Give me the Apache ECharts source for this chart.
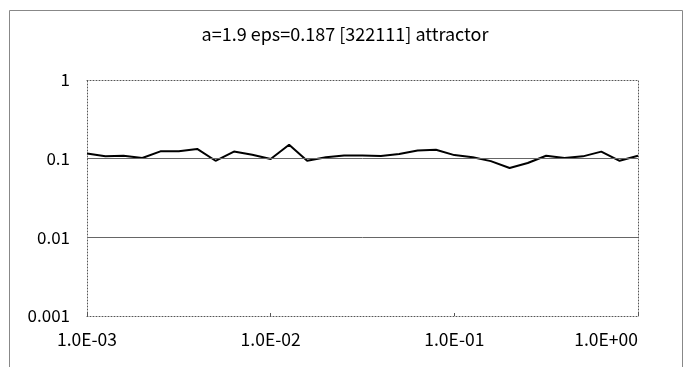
<!DOCTYPE html>
<html><head><meta charset="utf-8">
<script src="https://cdn.jsdelivr.net/npm/echarts@6/dist/echarts.min.js"></script>
<style>html,body{margin:0;padding:0;background:#fff}#c{width:690px;height:367px}</style>
</head><body><div id="c"></div>
<script>
const titleText = 'a=1.9 eps=0.187 [322111] attractor';
const xValues = [0.001, 0.00126, 0.00158, 0.002, 0.00251, 0.00316, 0.00398, 0.00501, 0.00631, 0.00794,
  0.01, 0.0126, 0.0158, 0.02, 0.0251, 0.0316, 0.0398, 0.0501, 0.0631, 0.0794,
  0.1, 0.126, 0.158, 0.2, 0.251, 0.316, 0.398, 0.501, 0.631, 0.794, 1.0];
const yValues = [0.116, 0.107, 0.109, 0.102, 0.124, 0.124, 0.133, 0.094, 0.123, 0.112,
  0.099, 0.150, 0.094, 0.104, 0.110, 0.110, 0.108, 0.115, 0.127, 0.130,
  0.111, 0.104, 0.093, 0.076, 0.088, 0.109, 0.102, 0.107, 0.123, 0.094, 0.109];
const xTickLabels = {0.001: '1.0E-03', 0.01: '1.0E-02', 0.1: '1.0E-01', 1: '1.0E+00'};
const yTickLabels = {0.001: '0.001', 0.01: '0.01', 0.1: '0.1', 1: '1'};
const refLines = [0.1, 0.01];

const FONT = '"Noto Sans CJK JP", "DejaVu Sans", sans-serif';
function lab(map, v) {
  for (const k in map) { if (Math.abs(Math.log10(v) - Math.log10(+k)) < 1e-6) return map[k]; }
  return '';
}
const dotted = {color: '#555', width: 1, type: [1, 2]};
const chart = echarts.init(document.getElementById('c'), null, {renderer: 'canvas'});
chart.setOption({
  animation: false,
  backgroundColor: '#fff',
  title: {text: titleText, left: 'center', top: 20, textStyle: {fontFamily: FONT, fontSize: 18, fontWeight: 'normal', color: '#000'}},
  graphic: [{type: 'rect', shape: {x: 9.5, y: 10.5, width: 673, height: 370}, style: {fill: null, stroke: '#888', lineWidth: 1}, silent: true}],
  grid: {left: 87, right: 52, top: 80, bottom: 51, containLabel: false},
  xAxis: [
    {type: 'log', logBase: 10, min: 0.001, max: 1, position: 'bottom',
     axisLine: {show: true, lineStyle: dotted}, axisTick: {show: true, inside: true, length: 3, lineStyle: {color: '#555'}},
     minorTick: {show: false}, splitLine: {show: false},
     axisLabel: {formatter: v => lab(xTickLabels, v), fontFamily: FONT, fontSize: 17.5, color: '#000', margin: 15, alignMaxLabel: 'right'}},
    {type: 'log', logBase: 10, min: 0.001, max: 1, position: 'top',
     axisLine: {show: true, lineStyle: dotted}, axisTick: {show: false}, axisLabel: {show: false}, splitLine: {show: false}}
  ],
  yAxis: [
    {type: 'log', logBase: 10, min: 0.001, max: 1, position: 'left',
     axisLine: {show: true, lineStyle: dotted}, axisTick: {show: false}, splitLine: {show: false},
     axisLabel: {formatter: v => lab(yTickLabels, v), fontFamily: FONT, fontSize: 17, color: '#000', margin: 17}},
    {type: 'log', logBase: 10, min: 0.001, max: 1, position: 'right',
     axisLine: {show: true, lineStyle: dotted}, axisTick: {show: false}, axisLabel: {show: false}, splitLine: {show: false}}
  ],
  series: [{
    type: 'line', data: xValues.map((x, i) => [x, yValues[i]]),
    showSymbol: false, symbol: 'none', lineStyle: {color: '#000', width: 2}, z: 3,
    markLine: {silent: true, symbol: 'none', label: {show: false},
      lineStyle: {color: '#666', width: 1, type: 'solid'},
      data: refLines.map(v => ({yAxis: v}))}
  }]
});
</script></body></html>
